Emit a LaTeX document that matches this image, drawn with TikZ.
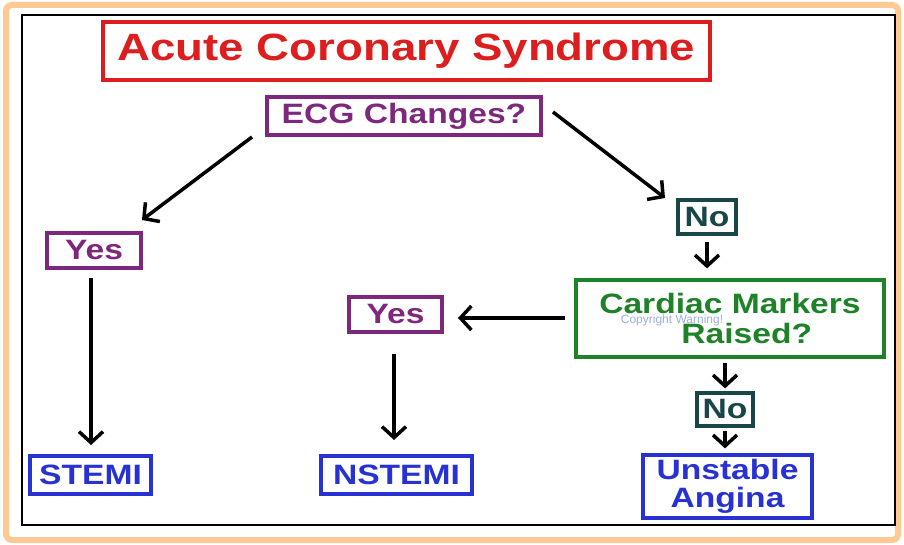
\documentclass[tikz,border=0pt]{standalone}
\usepackage{fontspec}
\setmainfont{Liberation Sans}
\usetikzlibrary{arrows.meta}
\definecolor{tred}{RGB}{220,30,30}
\definecolor{tpur}{RGB}{125,40,125}
\definecolor{tteal}{RGB}{25,70,70}
\definecolor{tgrn}{RGB}{30,130,40}
\definecolor{tblu}{RGB}{40,50,210}
\newcommand{\wtxt}[1]{\scalebox{1.2}[1]{#1}}
\tikzset{
 bx/.style={draw=#1,text=#1,line width=3.2pt,font=\bfseries\fontsize{28}{30}\selectfont,inner sep=0pt,align=center},
 ar/.style={line width=3.5pt,-{Straight Barb[length=11pt,width=24pt,line width=3.5pt]}}
}
\begin{document}
\begin{tikzpicture}[x=1pt,y=-1pt]
\useasboundingbox (0,0) rectangle (904,545);
\fill[white] (0,0) rectangle (904,545);
\draw[orange!70,line width=6pt,opacity=0.6,rounded corners=6pt] (6,5) rectangle (898,540);
\draw[black,line width=2.5pt] (22,15) rectangle (895,525);
\node[bx=tred,minimum width=607pt,minimum height=58pt,font=\bfseries\fontsize{38}{40}\selectfont] (t) at (406.5,51) {\wtxt{Acute Coronary Syndrome}};
\node[bx=tpur,minimum width=274pt,minimum height=38pt] (ecg) at (404,116) {\wtxt{ECG Changes?}};
\node[bx=tpur,minimum width=94pt,minimum height=35pt] (y1) at (94,250.5) {\wtxt{Yes}};
\node[bx=tteal,minimum width=58pt,minimum height=34pt] (n1) at (707,217) {\wtxt{No}};
\node[bx=tgrn,minimum width=308pt,minimum height=77pt] (cm) at (730,318.5) {\wtxt{Cardiac Markers}\\\hspace*{1.2em}\wtxt{Raised?}};
\node[bx=tpur,minimum width=93pt,minimum height=35pt] (y2) at (395.5,314.5) {\wtxt{Yes}};
\node[bx=tteal,minimum width=56pt,minimum height=33pt] (n2) at (725,409.5) {\wtxt{No}};
\node[bx=tblu,minimum width=121pt,minimum height=38pt] (st) at (90.5,475) {\wtxt{STEMI}};
\node[bx=tblu,minimum width=151pt,minimum height=38pt] (ns) at (396.5,475) {\wtxt{NSTEMI}};
\node[bx=tblu,minimum width=169pt,minimum height=63pt,font=\bfseries\fontsize{28}{28}\selectfont] (ua) at (727.5,486.5) {\wtxt{Unstable}\\\wtxt{Angina}};
\node[text=cyan!40!blue!40,font=\fontsize{12}{12}\selectfont] (wm) at (672,320) {Copyright Warning!};
\coordinate (e1) at (252,137); \coordinate (e2) at (553,112);
\draw[ar] (e1) -- (142,220);
\draw[ar] (e2) -- (665,198);
\draw[ar] ([yshift=-6pt]n1.south) -- ([yshift=10pt]cm.north -| n1);
\draw[ar] ([yshift=-8pt]y1.south -| 91,0) -- (91,445);
\draw[ar] (565,318) -- (458,318);
\draw[ar] ([yshift=-20pt]y2.south -| 394,0) -- (394,440);
\draw[ar] ([yshift=-4pt]cm.south -| n2) -- ([yshift=3pt]n2.north);
\draw[ar] ([yshift=-3pt]n2.south) -- ([yshift=5pt]ua.north -| n2);
\end{tikzpicture}
\end{document}
